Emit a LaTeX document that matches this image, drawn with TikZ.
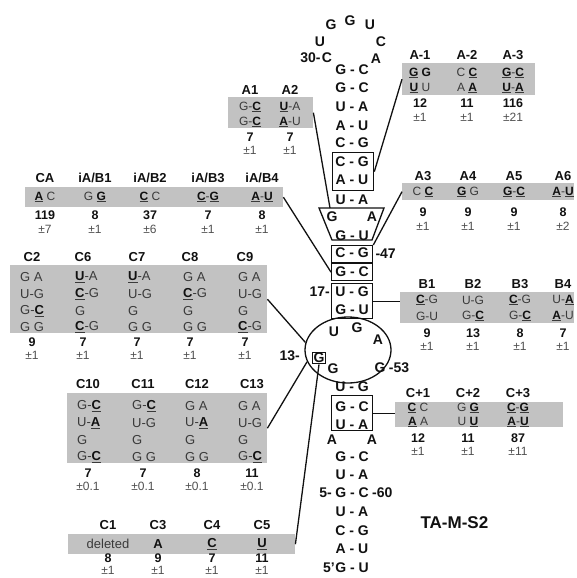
\documentclass[tikz,border=0pt]{standalone}
\usepackage{fontspec}
\setmainfont{Liberation Sans}
\usepackage{xcolor}
\usepackage{tikz}
\usetikzlibrary{positioning,shapes.geometric}
\definecolor{cpanel}{HTML}{C2C2C2}
\definecolor{cseq}{HTML}{3A3A3A}
\definecolor{cerr}{HTML}{505050}
\definecolor{cink}{HTML}{111111}
\newcommand{\mutb}[1]{\underline{\textcolor{cink}{\textbf{#1}}}}
\newcommand{\bld}[1]{\textcolor{cink}{\textbf{#1}}}
\newcommand{\iab}[1]{iA/B#1}
\tikzset{
  panel/.style={fill=cpanel,draw=none,inner sep=0pt,anchor=north west},
  frame/.style={draw=cink,line width=1.3pt,inner sep=0pt,anchor=north west},
  link/.style={draw=cink,line width=1.3pt},
  lab/.style={font=\fontsize{13}{13}\selectfont\bfseries,text=cink,inner sep=0pt},
  seq/.style={font=\fontsize{12}{12}\selectfont,text=cseq,inner sep=0pt},
  seql/.style={seq,font=\fontsize{13}{13}\selectfont,anchor=west},
  num/.style={font=\fontsize{12.5}{12.5}\selectfont\bfseries,text=cink,inner sep=0pt},
  err/.style={font=\fontsize{12}{12}\selectfont,text=cerr,inner sep=0pt},
  nt/.style={font=\fontsize{14}{14}\selectfont\bfseries,text=cink,inner sep=0pt},
}

\begin{document}
\begin{tikzpicture}[x=1pt,y=-1pt]
\useasboundingbox (0,0) rectangle (576,578);

% ---- grey mutant panels ----
\node[panel,minimum width=133pt,minimum height=32pt] (pAm) at (402,63) {};
\node[panel,minimum width=85pt,minimum height=31pt] (pA12) at (228,97) {};
\node[panel,minimum width=258pt,minimum height=20pt] (pCA) at (25,187) {};
\node[panel,minimum width=172pt,minimum height=17pt] (pA36) at (402,183) {};
\node[panel,minimum width=174pt,minimum height=31pt] (pB) at (400,292) {};
\node[panel,minimum width=168pt,minimum height=25pt] (pCp) at (395,402) {};
\node[panel,minimum width=257pt,minimum height=68pt] (pC2) at (10,265) {};
\node[panel,minimum width=200pt,minimum height=70pt] (pC10) at (67,393) {};
\node[panel,minimum width=227pt,minimum height=20pt] (pC1) at (68,534) {};

% ---- hairpin loop and stem ----
\node[nt] (h1) at (331,25) {G};
\node[nt] (h2) at (350,21) {G};
\node[nt] (h3) at (370,25) {U};
\node[nt] (h4) at (320,42) {U};
\node[nt] (h5) at (381,42) {C};
\node[nt] (h6) at (327,58) {C};
\node[nt] (h7) at (376,59) {A};
\node[nt,left=1pt of h6] (n30) {30-};
\foreach \y/\p [count=\i] in {70/G - C,88/G - C,107/U - A,126/A - U,143/C - G,162/C - G,180/A - U,200/U - A,
    236/G - U,253/C - G,272/G - C,292/U - G,310/G - U,387/U - G,407/G - C,425/U - A,
    457/G - C,475/U - A,493/G - C,512/U - A,531/C - G,549/A - U,568/G - U}
  \node[nt] (bp\i) at (352,\y) {\p};
\node[nt,left=3pt of bp19] (n5) {5-};
\node[nt,right=3pt of bp19] (n60) {-60};
\node[nt,left=0pt of bp23] (n5p) {5'};
\node[nt] (tG) at (332,217) {G};
\node[nt] (tA) at (372,217) {A};
\node[nt] (aL) at (332,440) {A};
\node[nt] (aR) at (372,440) {A};

% ---- boxed regions ----
\node[frame,minimum width=41pt,minimum height=38pt] (bxA) at (332,152) {};
\node[frame,minimum width=41pt,minimum height=17pt] (bx47) at (331,245) {};
\node[frame,minimum width=41pt,minimum height=17pt] (bxGC) at (331,263) {};
\node[frame,minimum width=41pt,minimum height=35pt] (bxB) at (331,283) {};
\node[frame,minimum width=41pt,minimum height=35pt] (bxCp) at (331,395) {};
\draw[link] (319,208) -- (384,208) -- (372,240) -- (332,240) -- cycle;
\coordinate (tqA) at (330,208);
\node[nt,anchor=east,xshift=-1pt] (n17) at (bxB.west |- bp12) {17-};
\node[nt,anchor=west,xshift=2pt] (n47) at (bx47.east) {-47};

% ---- internal loop ----
\node[draw=cink,line width=1.3pt,ellipse,minimum width=86pt,minimum height=66pt,inner sep=0pt] (loop) at (348,350) {};
\node[nt] (l14) at (334,332) {U};
\node[nt] (l51) at (357,328) {G};
\node[nt] (l52) at (378,340) {A};
\node[nt] (l12) at (333,369) {G};
\node[nt,draw=cink,line width=1pt,inner sep=1pt] (g13) at (319,358) {G};
\node[nt,anchor=east] (n13) at (300,356) {13-};
\node[nt] (g53) at (380,368) {G};
\node[nt,right=3pt of g53] (n53) {-53};

% ---- connectors ----
\draw[link] (pAm.west) -- (bxA.east);
\draw[link] (pA12.east) -- (tqA);
\draw[link] (pCA.east) -- (bxGC.west);
\draw[link] (pA36.west) -- (bx47.north east);
\draw[link] (bxB.east) -- (bxB.east -| pB.west);
\draw[link] (pC2.east) -- (loop.170);
\draw[link] (pC10.east) -- (loop.196);
\draw[link] (pC1.east) -- (g13.south);
\draw[link] (bxCp.east) -- (bxCp.east -| pCp.west);

% ---- panel A-1..A-3 ----
\foreach \x/\l/\ra/\rb/\n/\e [count=\i] in {420/A-1/{\mutb{G} \bld{G}}/{\mutb{U} U}/12/1,
    467/A-2/{C \mutb{C}}/{A \mutb{A}}/11/1,513/A-3/{\mutb{G}-\mutb{C}}/{\mutb{U}-\mutb{A}}/116/21}{
  \node[lab] (lAm\i) at (\x,55) {\l};
  \node[seq] (sAma\i) at (\x,73) {\ra};
  \node[seq] (sAmb\i) at (\x,88) {\rb};
  \node[num] (nAm\i) at (\x,103) {\n};
  \node[err] (eAm\i) at (\x,117) {±\e};
}
% ---- panel A1, A2 ----
\foreach \x/\l/\ra/\rb [count=\i] in {250/A1/{G-\mutb{C}}/{G-\mutb{C}},290/A2/{\mutb{U}-A}/{\mutb{A}-U}}{
  \node[lab] (lAs\i) at (\x,90) {\l};
  \node[seq] (sAsa\i) at (\x,107) {\ra};
  \node[seq] (sAsb\i) at (\x,122) {\rb};
  \node[num] (nAs\i) at (\x,137) {7};
  \node[err] (eAs\i) at (\x,150) {±1};
}
% ---- panel CA, iA/B ----
\foreach \x/\l/\r/\n/\e [count=\i] in {45/CA/{\mutb{A} C}/119/7,95/\iab1/{G \mutb{G}}/8/1,
    150/\iab2/{\mutb{C} C}/37/6,208/\iab3/{\mutb{C}-\mutb{G}}/7/1,262/\iab4/{\mutb{A}-\mutb{U}}/8/1}{
  \node[lab] (lCA\i) at (\x,178) {\l};
  \node[seq] (sCA\i) at (\x,197) {\r};
  \node[num] (nCA\i) at (\x,215) {\n};
  \node[err] (eCA\i) at (\x,229) {±\e};
}
% ---- panel A3..A6 ----
\foreach \x/\l/\r/\n/\e [count=\i] in {423/A3/{C \mutb{C}}/9/1,468/A4/{\mutb{G} G}/9/1,
    514/A5/{\mutb{G}-\mutb{C}}/9/1,563/A6/{\mutb{A}-\mutb{U}}/8/2}{
  \node[lab] (lAt\i) at (\x,176) {\l};
  \node[seq] (sAt\i) at (\x,192) {\r};
  \node[num] (nAt\i) at (\x,212) {\n};
  \node[err] (eAt\i) at (\x,226) {±\e};
}
% ---- panel B1..B4 ----
\foreach \x/\l/\ra/\rb/\n [count=\i] in {427/B1/{\mutb{C}-G}/{G-U}/9,473/B2/{U-G}/{G-\mutb{C}}/13,
    520/B3/{\mutb{C}-G}/{G-\mutb{C}}/8,563/B4/{U-\mutb{A}}/{\mutb{A}-U}/7}{
  \node[lab] (lB\i) at (\x,284) {\l};
  \node[seq] (sBa\i) at (\x,300) {\ra};
  \node[seq] (sBb\i) at (\x,316) {\rb};
  \node[num] (nB\i) at (\x,333) {\n};
  \node[err] (eB\i) at (\x,346) {±1};
}
% ---- panel C+1..C+3 ----
\foreach \x/\l/\ra/\rb/\n/\e [count=\i] in {418/C+1/{\mutb{C} C}/{\mutb{A} A}/12/1,
    468/C+2/{G \mutb{G}}/{U \mutb{U}}/11/1,518/C+3/{\mutb{C}-\mutb{G}}/{\mutb{A}-\mutb{U}}/87/11}{
  \node[lab] (lCp\i) at (\x,393) {\l};
  \node[seq] (sCpa\i) at (\x,408) {\ra};
  \node[seq] (sCpb\i) at (\x,422) {\rb};
  \node[num] (nCp\i) at (\x,438) {\n};
  \node[err] (eCp\i) at (\x,451) {±\e};
}
% ---- panel C2, C6..C9 ----
\foreach \x/\t/\l/\ra/\rb/\rc/\rd/\n [count=\i] in {32/20/C2/G A/U-G/{G-\mutb{C}}/G G/9,
    83/75/C6/{\mutb{U}-A}/{\mutb{C}-G}/G/{\mutb{C}-G}/7,137/128/C7/{\mutb{U}-A}/U-G/G/G G/7,
    190/183/C8/G A/{\mutb{C}-G}/G/G G/7,245/238/C9/G A/U-G/G/{\mutb{C}-G}/7}{
  \node[lab] (lCb\i) at (\x,257) {\l};
  \node[seql] (sCba\i) at (\t,277) {\ra};
  \node[seql] (sCbb\i) at (\t,294) {\rb};
  \node[seql] (sCbc\i) at (\t,311) {\rc};
  \node[seql] (sCbd\i) at (\t,327) {\rd};
  \node[num] (nCb\i) at (\x,342) {\n};
  \node[err] (eCb\i) at (\x,355) {±1};
}
% ---- panel C10..C13 ----
\foreach \x/\t/\l/\ra/\rb/\rc/\rd/\n [count=\i] in {88/77/C10/{G-\mutb{C}}/{U-\mutb{A}}/G/{G-\mutb{C}}/7,
    143/132/C11/{G-\mutb{C}}/U-G/G/G G/7,197/185/C12/G A/{U-\mutb{A}}/G/G G/8,
    252/238/C13/G A/U-G/G/{G-\mutb{C}}/11}{
  \node[lab] (lCc\i) at (\x,384) {\l};
  \node[seql] (sCca\i) at (\t,406) {\ra};
  \node[seql] (sCcb\i) at (\t,423) {\rb};
  \node[seql] (sCcc\i) at (\t,440) {\rc};
  \node[seql] (sCcd\i) at (\t,457) {\rd};
  \node[num] (nCc\i) at (\x,473) {\n};
  \node[err] (eCc\i) at (\x,486) {±0.1};
}
% ---- panel C1, C3..C5 ----
\foreach \x/\l/\r/\n [count=\i] in {108/C1/deleted/8,158/C3/\bld{A}/9,212/C4/\mutb{C}/7,262/C5/\mutb{U}/11}{
  \node[lab] (lCa\i) at (\x,525) {\l};
  \node[seql,anchor=center] (sCa\i) at (\x,544) {\r};
  \node[num] (nCa\i) at (\x,558) {\n};
  \node[err] (eCa\i) at (\x,570) {±1};
}

\node[font=\fontsize{17}{17}\selectfont\bfseries,text=cink,anchor=west] (ttl) at (417,523) {TA-M-S2};
\end{tikzpicture}
\end{document}
